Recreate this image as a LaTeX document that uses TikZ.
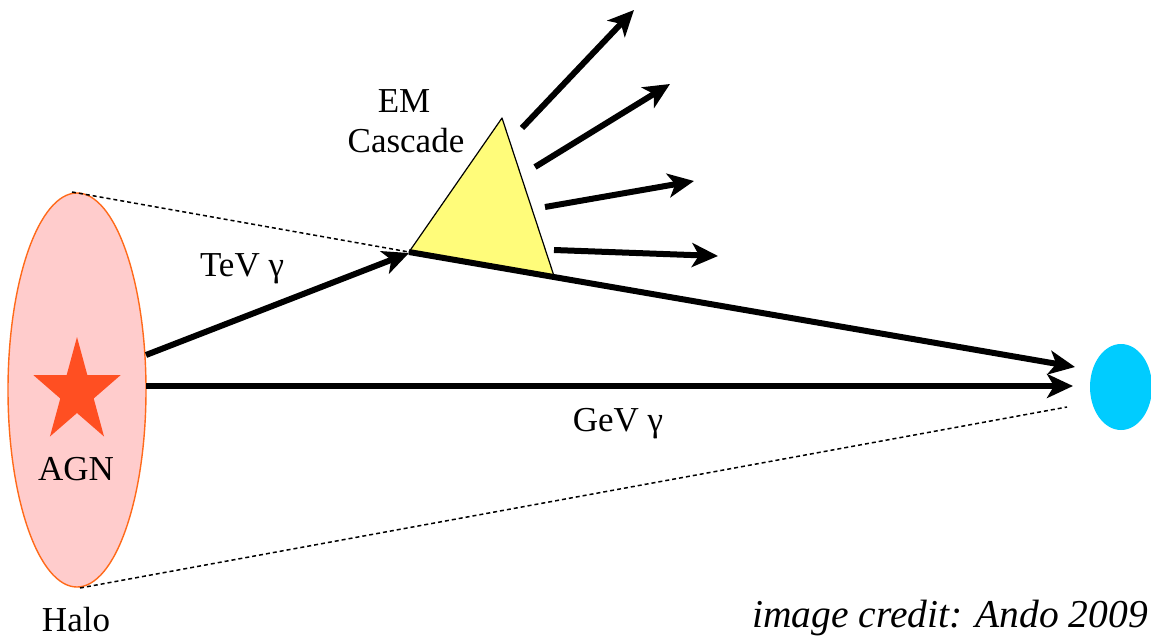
\documentclass[tikz,border=0pt]{standalone}
\usepackage{fontspec}
\setmainfont{Liberation Serif}
\usetikzlibrary{arrows.meta,shapes.geometric}
\definecolor{halofill}{HTML}{FFCCCC}
\definecolor{haloedge}{HTML}{FF6A1A}
\definecolor{starred}{HTML}{FF4F22}
\definecolor{cascyellow}{HTML}{FFFC7A}
\definecolor{obsblue}{HTML}{00CCFF}
\tikzset{
  lbl/.style={anchor=base, inner sep=0pt, font=\fontsize{35}{40}\selectfont},
  ray/.style={line width=6pt, -{Stealth[length=26pt, width=24pt, inset=7pt]}},
  conedge/.style={dashed, dash pattern=on 4pt off 3pt, line width=1.5pt},
}
\begin{document}
\begin{tikzpicture}[x=1pt, y=-1pt]
\useasboundingbox (0,0) rectangle (1151,637);
% halo
\node[draw=haloedge, fill=halofill, line width=1.4pt, ellipse, minimum width=138pt, minimum height=394pt, inner sep=0pt] (halo) at (77,390) {};
% star
\fill[starred]
  ({77+46*cos(90)},{392-55*sin(90)})
  -- ({77+0.382*46*cos(126)},{392-0.382*55*sin(126)})
  -- ({77+46*cos(162)},{392-55*sin(162)})
  -- ({77+0.382*46*cos(198)},{392-0.382*55*sin(198)})
  -- ({77+46*cos(234)},{392-55*sin(234)})
  -- ({77+0.382*46*cos(270)},{392-0.382*55*sin(270)})
  -- ({77+46*cos(306)},{392-55*sin(306)})
  -- ({77+0.382*46*cos(342)},{392-0.382*55*sin(342)})
  -- ({77+46*cos(18)},{392-55*sin(18)})
  -- ({77+0.382*46*cos(54)},{392-0.382*55*sin(54)})
  -- cycle;
\node[lbl] (agn) at (76,480) {AGN};
\node[lbl] (halolbl) at (76,631) {Halo};
% observer
\node[fill=obsblue, ellipse, minimum width=62pt, minimum height=86pt, inner sep=0pt] (obs) at (1121,387) {};
% cascade triangle
\coordinate (tl) at (409,252);
\coordinate (tt) at (502,118);
\coordinate (tr) at (554,276);
\draw[fill=cascyellow, line width=1.2pt, line join=round] (tl) -- (tt) -- (tr) -- cycle;
% cone edges
\coordinate (halotop) at (72,192);
\coordinate (halobot) at (80,588);
\coordinate (conetip) at (1067,407);
\draw[conedge] (halotop) -- (tl);
\draw[conedge] (halobot) -- (conetip);
% gamma rays
\coordinate (tevstart) at (146,355);
\coordinate (gevstart) at (146,386);
\coordinate (gevend) at (1073,386);
\coordinate (casend) at (1075,367);
\draw[ray] (tevstart) -- (409,253);
\draw[ray] (gevstart) -- (gevend);
\draw[ray] (tl) -- (casend);
% secondary rays
\draw[ray] (522,128) -- (634,10);
\draw[ray] (535,167) -- (670,84);
\draw[ray] (545,207) -- (694,181);
\draw[ray] (554,250) -- (718,256);
% labels
\node[lbl] (tev) at (242,276) {TeV γ};
\node[lbl] (gev) at (618,431) {GeV γ};
\node[lbl] (em) at (404,112) {EM};
\node[lbl] (casc) at (406,152) {Cascade};
\node[lbl, anchor=base east, font=\fontsize{39.5}{44}\selectfont] (credit) at (1148,627) {\itshape image credit: Ando 2009};
\end{tikzpicture}
\end{document}
